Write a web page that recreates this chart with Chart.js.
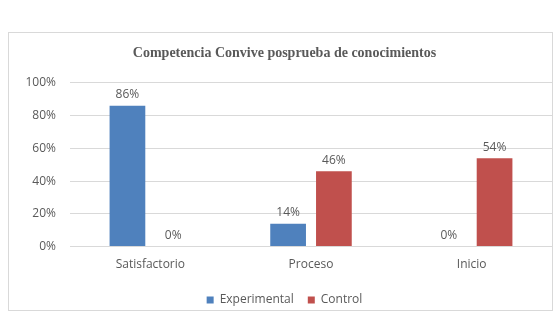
<!DOCTYPE html>
<html>
<head>
<meta charset="utf-8">
<script src="https://cdn.jsdelivr.net/npm/chart.js@4"></script>
<style>
  html, body { margin: 0; padding: 0; background: #fff; }
  #box {
    position: absolute; left: 8px; top: 32px;
    width: 543px; height: 277px;
    border: 1px solid #d9d9d9;
  }
  #chart { position: absolute; left: 0; top: 0; }
</style>
</head>
<body>
<div id="box"><canvas id="chart" width="543" height="283"></canvas></div>
<script>
// Data
const categories = ['Satisfactorio', 'Proceso', 'Inicio'];
const experimental = [86, 14, 0];
const control = [0, 46, 54];
const yTicks = [0, 20, 40, 60, 80, 100];

const grey = '#595959';

// draws the value above each bar
const valueLabels = {
  id: 'valueLabels',
  afterDatasetsDraw(chart) {
    const ctx = chart.ctx;
    ctx.save();
    ctx.font = '12px "Open Sans"';
    ctx.fillStyle = grey;
    ctx.textAlign = 'center';
    ctx.textBaseline = 'bottom';
    chart.data.datasets.forEach((ds, i) => {
      chart.getDatasetMeta(i).data.forEach((bar, j) => {
        ctx.fillText(ds.data[j] + '%', bar.x, bar.y - 5);
      });
    });
    ctx.restore();
  }
};

new Chart(document.getElementById('chart'), {
  type: 'bar',
  data: {
    labels: categories,
    datasets: [
      { label: 'Experimental', data: experimental, backgroundColor: '#4F81BD' },
      { label: 'Control', data: control, backgroundColor: '#C0504D' }
    ]
  },
  options: {
    responsive: false,
    animation: false,
    layout: { padding: { left: 8, right: 0, top: 0, bottom: 0 } },
    datasets: { bar: { categoryPercentage: 0.57, barPercentage: 0.78 } },
    plugins: {
      title: {
        display: true,
        text: 'Competencia Convive posprueba de conocimientos',
        color: grey,
        font: { family: '"Liberation Serif"', size: 14, weight: 'bold' },
        padding: { top: 12, bottom: 21 }
      },
      legend: {
        position: 'bottom',
        labels: {
          color: grey,
          font: { family: '"Open Sans"', size: 12 },
          boxWidth: 7, boxHeight: 7, padding: 14
        }
      },
      tooltip: { enabled: false }
    },
    scales: {
      x: {
        afterFit(scale) { scale.height += 5; },
        grid: { display: false },
        border: { display: false },
        ticks: { color: grey, font: { family: '"Open Sans"', size: 12 }, padding: 3 }
      },
      y: {
        min: 0, max: 100,
        afterBuildTicks(scale) { scale.ticks = yTicks.map(v => ({ value: v })); },
        afterFit(scale) { scale.width = 53; },
        grid: { color: '#d9d9d9', drawTicks: false },
        border: { display: false },
        ticks: {
          color: grey, font: { family: '"Open Sans"', size: 12 }, padding: 14,
          callback: v => v + '%'
        }
      }
    }
  },
  plugins: [valueLabels]
});
</script>
</body>
</html>
